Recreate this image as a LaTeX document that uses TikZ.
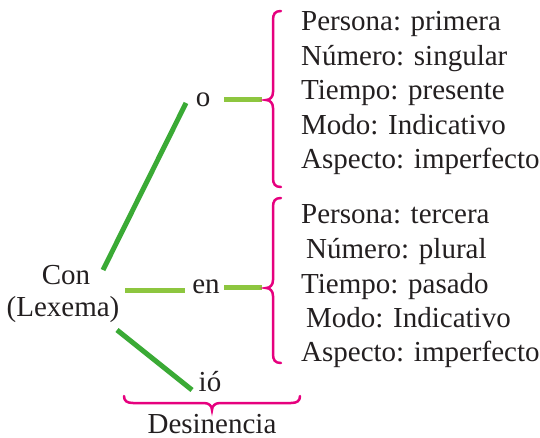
\documentclass[tikz,border=0pt]{standalone}
\usepackage{fontspec}
\setmainfont{LiberationSerif}[Extension=.ttf,UprightFont=*-Regular,BoldFont=*-Bold,ItalicFont=*-Italic]
\definecolor{dgreen}{HTML}{3AAA35}
\definecolor{lgreen}{HTML}{8DC63F}
\definecolor{mag}{HTML}{E6007E}
\definecolor{ink}{HTML}{231F20}
\begin{document}
\begin{tikzpicture}[x=1pt,y=-1pt,
  txt/.style={inner sep=0pt,text=ink,font=\fontsize{29}{34}\selectfont},
  lbl/.style={txt,anchor=base west},
  dline/.style={dgreen,line width=5pt},
  lline/.style={lgreen,line width=5pt},
  brc/.style={mag,line width=2.5pt,line cap=round}]
\useasboundingbox (0,0) rectangle (540,438);
% words
\node[txt] (o) at (203,100) {o};
\node[txt] (con) at (66,275) {Con};
\node[txt] (lex) at (63,310) {(Lexema)};
\node[txt] (en) at (206,287) {en};
\node[txt] (io) at (210,382) {ió};
\node[txt,anchor=base] (des) at (212,433) {Desinencia};
% connectors
\coordinate (a1) at (103,270); \coordinate (a2) at (186,103);
\coordinate (b1) at (224,100); \coordinate (b2) at (262,100);
\coordinate (c1) at (125,290); \coordinate (c2) at (185,290);
\coordinate (d1) at (224,287); \coordinate (d2) at (262,287);
\coordinate (e1) at (117,330); \coordinate (e2) at (192,390);
\draw[dline] (a1) -- (a2);
\draw[lline] (b1) -- (b2);
\draw[lline] (c1) -- (c2);
\draw[lline] (d1) -- (d2);
\draw[dline] (e1) -- (e2);
% braces
\draw[brc] (281,11) .. controls (275,11) and (273,14) .. (273,20) -- (273,92)
  .. controls (273,97) and (270,100) .. (266,100)
  .. controls (270,100) and (273,103) .. (273,108) -- (273,178)
  .. controls (273,184) and (275,187) .. (281,187);
\draw[brc] (281,198) .. controls (275,198) and (273,201) .. (273,207) -- (273,280)
  .. controls (273,285) and (270,288) .. (266,288)
  .. controls (270,288) and (273,291) .. (273,296) -- (273,354)
  .. controls (273,360) and (275,363) .. (281,363);
\draw[brc] (124,396) .. controls (124,401) and (127,403) .. (133,403) -- (204,403)
  .. controls (209,403) and (212,406) .. (212,410)
  .. controls (212,406) and (215,403) .. (220,403) -- (291,403)
  .. controls (297,403) and (300,401) .. (300,396);
% block 1
\node[lbl] (p1) at (301,31) {Persona: primera};
\node[lbl] (n1) at (301,65.5) {Número: singular};
\node[lbl] (t1) at (301,100) {Tiempo: presente};
\node[lbl] (m1) at (301,134.5) {Modo: Indicativo};
\node[lbl] (s1) at (301,169) {Aspecto: imperfecto};
% block 2
\node[lbl] (p2) at (301,224) {Persona: tercera};
\node[lbl] (n2) at (306,258) {Número: plural};
\node[lbl] (t2) at (301,293) {Tiempo: pasado};
\node[lbl] (m2) at (306,327) {Modo: Indicativo};
\node[lbl] (s2) at (301,361) {Aspecto: imperfecto};
\end{tikzpicture}
\end{document}
